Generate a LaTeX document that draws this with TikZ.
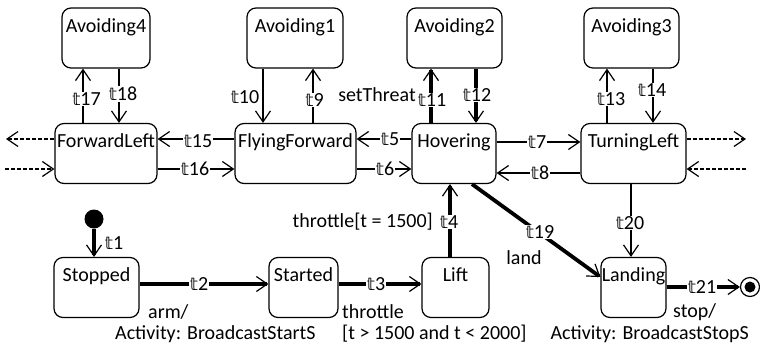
\documentclass[tikz,border=0pt]{standalone}
\usepackage{fontspec}
\setmainfont{Carlito}
\newfontfamily\dsfont{DejaVu Sans}
\usetikzlibrary{arrows.meta}
\newcommand{\tn}[1]{{\dsfont\fontsize{17.5}{20}\selectfont 𝕥}#1}
\tikzset{
  base font/.style={font=\fontsize{20}{23}\selectfont},
  state/.style={draw, line width=1.2pt, rounded corners=9pt, inner xsep=2pt,
    inner ysep=1pt, text height=23pt, text depth=35pt, base font},
  tlbl/.style={fill=white, inner sep=0.6pt, base font},
  txt/.style={inner sep=0pt, base font},
  thin/.style={line width=1.2pt},
  thick/.style={line width=3.8pt},
  tr/.style={-{Straight Barb[length=11pt,width=15pt,line width=1.2pt]}},
  ext/.style={thin, dash pattern=on 4pt off 2pt},
}
\begin{document}
\begin{tikzpicture}[x=1pt, y=-1pt]
\useasboundingbox (0,0) rectangle (760,346);

% states
\node[state, minimum width=88pt]  (av4) at (106,38)    {Avoiding4};
\node[state, minimum width=96pt]  (av1) at (295,38)    {Avoiding1};
\node[state, minimum width=95pt]  (av2) at (454.5,38)  {Avoiding2};
\node[state, minimum width=95pt]  (av3) at (631.5,38)  {Avoiding3};
\node[state, minimum width=102pt] (fl)  at (106,153.5) {ForwardLeft};
\node[state, minimum width=121pt] (ff)  at (295.5,153.5) {FlyingForward};
\node[state, minimum width=84pt]  (hov) at (454,153.5) {Hovering};
\node[state, minimum width=105pt] (tl)  at (633.5,153.5) {TurningLeft};
\node[state, minimum width=85pt]  (stp) at (96.5,287.5) {Stopped};
\node[state, minimum width=69pt]  (sta) at (303.5,287.5) {Started};
\node[state, minimum width=67pt]  (lift) at (455.5,287.5) {Lift};
\node[state, minimum width=65pt, inner xsep=0pt]  (land) at (633.5,287.5) {Landing};

% pseudo states
\node[circle, fill, minimum size=19pt, inner sep=0pt] (init) at (94,219) {};
\node[circle, draw, thin, minimum size=19pt, inner sep=0pt] (fin) at (750,287) {};
\node[circle, fill, minimum size=11pt, inner sep=0pt] (finc) at (fin) {};

% columns and rows of the connectors
\coordinate (x17) at (83,0);   \coordinate (x18) at (119,0);
\coordinate (x10) at (263,0);  \coordinate (x9)  at (313,0);
\coordinate (x11) at (431,0);  \coordinate (x12) at (476,0);
\coordinate (x13) at (607,0);  \coordinate (x14) at (653,0);
\coordinate (x20) at (631,0);  \coordinate (x4)  at (450,0);
\coordinate (x1)  at (94,0);   \coordinate (x19) at (472,0);
\coordinate (yup) at (0,139);  \coordinate (ylo) at (0,169);
\coordinate (y7)  at (0,142);  \coordinate (y8)  at (0,173);
\coordinate (y2)  at (0,284);  \coordinate (y19) at (0,277);
\coordinate (y21) at (0,287);
\coordinate (lout) at (6,139); \coordinate (lin) at (5,169);
\coordinate (rout) at (746,139); \coordinate (rin) at (746,169);

% vertical transitions to the avoiding states
\draw[thin, tr] (fl.north -| x17) -- (av4.south -| x17);
\draw[thin, tr] (av4.south -| x18) -- (fl.north -| x18);
\draw[thin, tr] (av1.south -| x10) -- (ff.north -| x10);
\draw[thin, tr] (ff.north -| x9) -- (av1.south -| x9);
\draw[thick, tr] (hov.north -| x11) -- (av2.south -| x11);
\draw[thick, tr] (av2.south -| x12) -- (hov.north -| x12);
\draw[thin, tr] (tl.north -| x13) -- (av3.south -| x13);
\draw[thin, tr] (av3.south -| x14) -- (tl.north -| x14);

% horizontal transitions of the flying states
\draw[thin, tr] (ff.west |- yup) -- (fl.east |- yup);
\draw[thin, tr] (fl.east |- ylo) -- (ff.west |- ylo);
\draw[thin, tr] (hov.west |- yup) -- (ff.east |- yup);
\draw[thin, tr] (ff.east |- ylo) -- (hov.west |- ylo);
\draw[thin, tr] (hov.east |- y7) -- (tl.west |- y7);
\draw[thin, tr] (tl.west |- y8) -- (hov.east |- y8);

% transitions leaving and entering the shown part
\draw[ext, tr] (fl.west |- lout) -- (lout);
\draw[ext, tr] (lin) -- (fl.west |- lin);
\draw[ext, tr] (tl.east |- rout) -- (rout);
\draw[ext, tr] (rin) -- (tl.east |- rin);

% ground and landing transitions
\draw[thin, tr] (tl.south -| x20) -- (land.north -| x20);
\draw[thick, tr] (hov.south -| x19) -- (land.west |- y19);
\draw[thick, tr] (lift.north -| x4) -- (hov.south -| x4);
\draw[thick, tr] (init.south -| x1) -- (stp.north -| x1);
\draw[thick, tr] (stp.east |- y2) -- (sta.west |- y2);
\draw[thick, tr] (sta.east |- y2) -- (lift.west |- y2);
\draw[thick, tr] (land.east |- y21) -- (fin.west);

% transition names
\node[tlbl] (l17) at (86.5,99)  {\tn{17}};
\node[tlbl] (l18) at (123,94)   {\tn{18}};
\node[tlbl] (l10) at (245,97)   {\tn{10}};
\node[tlbl] (l9)  at (314.5,100) {\tn{9}};
\node[tlbl] (l11) at (432,100)  {\tn{11}};
\node[tlbl] (l12) at (477,95)   {\tn{12}};
\node[tlbl] (l13) at (611,99)   {\tn{13}};
\node[tlbl] (l14) at (652,90)   {\tn{14}};
\node[tlbl] (l15) at (198,141)  {\tn{15}};
\node[tlbl] (l16) at (195,169)  {\tn{16}};
\node[tlbl] (l5)  at (390,139)  {\tn{5}};
\node[tlbl] (l6)  at (385,169)  {\tn{6}};
\node[tlbl] (l7)  at (537,142)  {\tn{7}};
\node[tlbl] (l8)  at (540,173)  {\tn{8}};
\node[tlbl] (l20) at (630,223)  {\tn{20}};
\node[tlbl] (l19) at (540,232)  {\tn{19}};
\node[tlbl] (l4)  at (449,222)  {\tn{4}};
\node[tlbl] (l1)  at (114,243)  {\tn{1}};
\node[tlbl] (l2)  at (199,284)  {\tn{2}};
\node[tlbl] (l3)  at (376,284)  {\tn{3}};
\node[tlbl] (l21) at (702,287)  {\tn{21}};

% triggers, guards and activities
\node[txt] (g11) at (377,95)  {setThreat};
\node[txt, anchor=east] (g4) at (433,222) {throttle[t = 1500]};
\node[txt] (g19) at (524,258) {land};
\node[txt, anchor=west] (g2a) at (148,312) {arm/};
\node[txt, anchor=west] (g2b) at (115,334) {Activity: BroadcastStartS};
\node[txt, anchor=west] (g3a) at (342,312) {throttle};
\node[txt, anchor=west] (g3b) at (342,334) {[t > 1500 and t < 2000]};
\node[txt, anchor=west] (g21a) at (673,312) {stop/};
\node[txt, anchor=east] (g21b) at (749,334) {Activity: BroadcastStopS};
\end{tikzpicture}
\end{document}
